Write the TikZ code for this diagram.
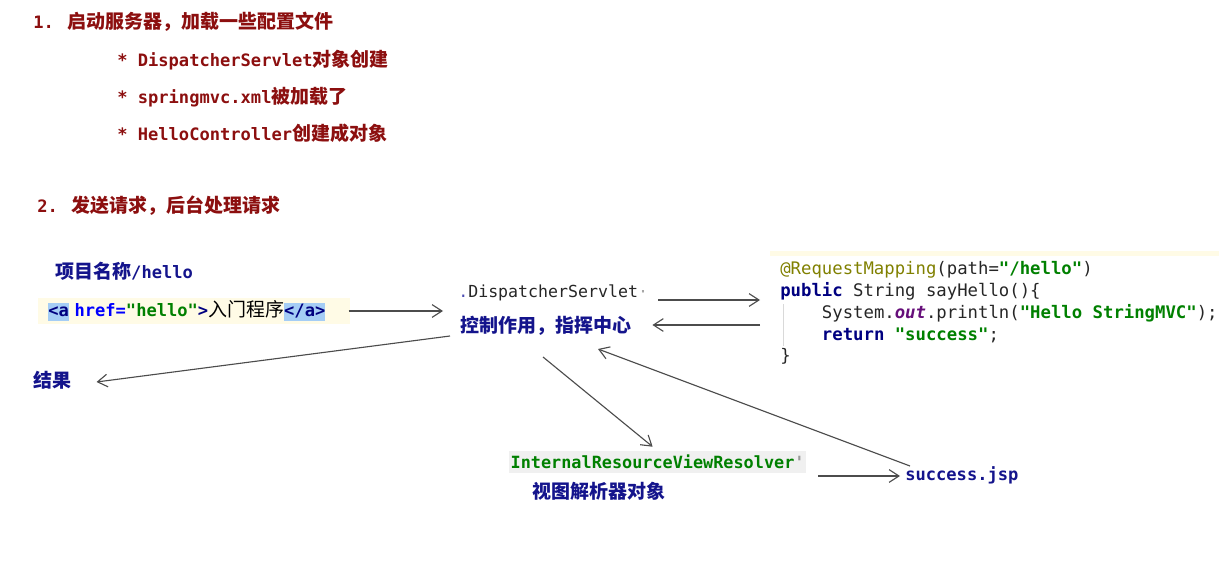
\documentclass[tikz,border=0pt]{standalone}
\usepackage{fontspec}
\usetikzlibrary{calc, arrows.meta, positioning}
\newfontfamily\cjk{Noto Sans CJK SC}
\newfontfamily\pixmono{DejaVu Sans Mono}[Scale=0.9]
\newfontfamily\idemono{DejaVu Sans Mono}
\definecolor{titlered}{RGB}{140,15,15}
\definecolor{navy}{RGB}{20,20,140}
\definecolor{kwnavy}{RGB}{0,0,128}
\definecolor{strgreen}{RGB}{0,128,0}
\definecolor{attrblue}{RGB}{0,0,255}
\definecolor{annot}{RGB}{128,128,0}
\definecolor{fieldpurple}{RGB}{102,14,122}
\definecolor{codeyellow}{RGB}{255,251,230}
\definecolor{hlblue}{RGB}{165,205,245}
\definecolor{resgray}{RGB}{240,240,240}
\tikzstyle{line} = [draw, black!70, line width=0.8pt, -{Straight Barb[length=7pt,width=9pt]}]
\tikzstyle{txt} = [inner sep=0pt, anchor=west]
\newcommand{\hlbox}[1]{{\fboxsep=0pt\colorbox{hlblue}{\vrule height 10pt depth 3pt width 0pt #1}}}

\begin{document}
\begin{tikzpicture}
    [
        x=0.025cm, y=-0.025cm,
        title/.style={txt, font=\fontsize{13.5}{16}\selectfont\bfseries, text=titlered},
        note/.style={txt, font=\fontsize{13.5}{16}\selectfont\bfseries, text=navy},
        code/.style={txt, anchor=base west, font=\fontsize{12.3}{15}\selectfont\idemono, text=black!85}
    ]
    \useasboundingbox (0,0) rectangle (1219,565);

    % part 1: start up
    \node[title] (start_up) at (33,22) {{\pixmono 1. }{\cjk 启动服务器，加载一些配置文件}};
    \node[title] (item_servlet) at (117,60) {{\pixmono * DispatcherServlet}{\cjk 对象创建}};
    \node[title] (item_xml) at (117,97) {{\pixmono * springmvc.xml}{\cjk 被加载了}};
    \node[title] (item_ctrl) at (117,133) {{\pixmono * HelloController}{\cjk 创建成对象}};

    % part 2: request
    \node[title] (request) at (37,206) {{\pixmono 2. }{\cjk 发送请求，后台处理请求}};
    \node[note] (project_name) at (55,271) {{\cjk 项目名称}{\pixmono /hello}};
    \node[txt, fill=codeyellow, inner xsep=0.25cm, minimum height=0.625cm, text width=7.3cm, align=left,
          font=\fontsize{13.5}{16}\selectfont\pixmono\bfseries] (link_code) at (38,311)
        {\hlbox{\textcolor{kwnavy}{<a}} \textcolor{attrblue}{href=}\textcolor{strgreen}{"hello"}\textcolor{kwnavy}{>}{\cjk\mdseries 入门程序}\hlbox{\textcolor{kwnavy}{</a>}}};

    \node[txt, font=\fontsize{11.8}{14}\selectfont\idemono, text=black!85] (dispatcher) at (458,293)
        {\textcolor{blue!40!gray}{.}DispatcherServlet\textcolor{black!35}{·}};
    \node[note] (control_center) at (460,326) {{\cjk 控制作用，指挥中心}};

    % controller code
    \fill[codeyellow] (770,251) rectangle (1219,256);
    \node[code] (code_l1) at (780,274) {\textcolor{annot}{@RequestMapping}(path=\textcolor{strgreen}{\bfseries "/hello"})};
    \node[code] (code_l2) at ($(code_l1.base west)+(0,22)$) {\textcolor{kwnavy}{\bfseries public} String sayHello()\{};
    \node[code] (code_l3) at ($(code_l2.base west)+(0,22)$) {\phantom{xxxx}System.\textcolor{fieldpurple}{\bfseries\itshape out}.println(\textcolor{strgreen}{\bfseries "Hello StringMVC"});};
    \node[code] (code_l4) at ($(code_l3.base west)+(0,22)$) {\phantom{xxxx}\textcolor{kwnavy}{\bfseries return} \textcolor{strgreen}{\bfseries "success"};};
    \node[code] (code_l5) at ($(code_l4.base west)+(0,21)$) {\}};
    \draw[black!15, line width=0.5pt] ($(code_l3.base west)+(3,-14)$) -- ($(code_l4.base west)+(3,6)$);

    \node[note] (result) at (33,380) {{\cjk 结果}};
    \node[txt, fill=resgray, inner xsep=1pt, minimum height=0.55cm, text=strgreen,
          font=\fontsize{13.3}{16}\selectfont\pixmono\bfseries] (resolver) at (509,462)
        {InternalResourceViewResolver\textcolor{black!40}{'}};
    \node[note] (view_name) at (532,491) {{\cjk 视图解析器对象}};
    \node[note] (success_jsp) at (905,475) {{\pixmono success.jsp}};

    % connectors
    \path[line] ($(link_code.east)+(-2,0)$) -> ($(dispatcher.west |- link_code.east)+(-15,0)$);
    \path[line] ($(dispatcher.east)+(10,7)$) -> ($(code_l3.west |- dispatcher.east)+(-20,7)$);
    \path[line] ($(code_l3.west |- control_center.east)+(-20,-1)$) -> ($(control_center.east)+(21,-1)$);
    \path[line] ($(control_center.west)+(-10,10)$) -> ($(result.east)+(25,2)$);
    \path[line] ($(control_center.west)+(83,31)$) -> ($(resolver.north)+(-5,-4)$);
    \path[line] ($(resolver.east)+(12,14)$) -> ($(success_jsp.west)+(-5,1)$);
    \path[line] ($(success_jsp.west)+(5,-9)$) -> ($(control_center.west)+(138,23)$);

\end{tikzpicture}
\end{document}
